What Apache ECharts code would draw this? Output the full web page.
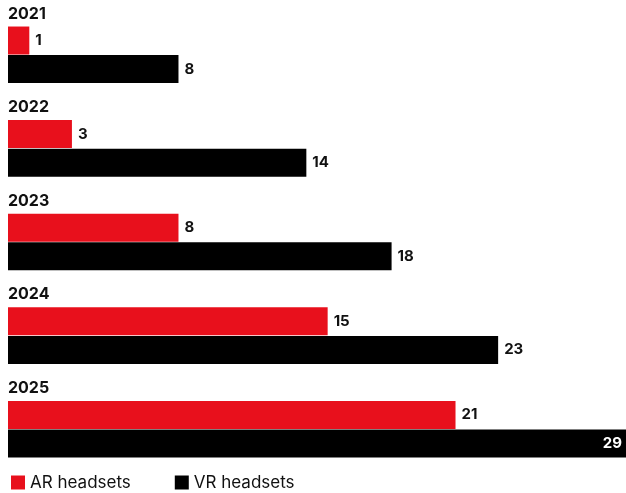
<!doctype html>
<html>
<head>
  <meta charset="utf-8">
  <title>AR / VR headsets</title>
  <script src="https://cdn.jsdelivr.net/npm/echarts@6/dist/echarts.min.js"></script>
  <style>
    html, body { margin: 0; padding: 0; background: #fff; }
    #main { width: 626px; height: 493px; }
  </style>
</head>
<body>
  <div id="main"></div>
<script type="text/javascript">
  var years = ['2021', '2022', '2023', '2024', '2025'];
  var arValues = [1, 3, 8, 15, 21];
  var vrValues = [8, 14, 18, 23, 29];

  var RED = '#e8101c';
  var FONT = 'Inter, Roboto, sans-serif';

  // the last VR bar runs to the edge, its label goes inside in white
  var vrData = vrValues.map(function (v, i) {
    if (i === vrValues.length - 1) {
      return { value: v, label: { position: 'insideRight', color: '#fff', distance: 4 } };
    }
    return v;
  });

  var option = {
    animation: false,
    grid: { left: 8, right: 0, top: 8, bottom: 17 },
    legend: {
      left: 6, top: 469,
      itemWidth: 14, itemHeight: 14, itemGap: 44,
      icon: 'rect',
      textStyle: { fontFamily: FONT, fontSize: 17, color: '#111' },
      data: ['AR headsets', 'VR headsets']
    },
    xAxis: {
      type: 'value', min: 0, max: 29,
      show: false
    },
    yAxis: {
      type: 'category', data: years, inverse: true,
      axisLine: { show: false }, axisTick: { show: false },
      axisLabel: {
        inside: true, margin: 0, align: 'left', verticalAlign: 'bottom',
        padding: [0, 0, 33, 0],
        fontFamily: FONT, fontSize: 16, fontWeight: 'bold', color: '#111'
      }
    },
    series: [
      {
        name: 'AR headsets', type: 'bar', data: arValues,
        barWidth: 28, barGap: '2%',
        itemStyle: { color: RED },
        label: { show: true, position: 'right', distance: 6, fontFamily: FONT, fontSize: 15, fontWeight: 'bold', color: '#111' }
      },
      {
        name: 'VR headsets', type: 'bar', data: vrData,
        barWidth: 28,
        itemStyle: { color: '#000' },
        label: { show: true, position: 'right', distance: 6, fontFamily: FONT, fontSize: 15, fontWeight: 'bold', color: '#111' }
      }
    ]
  };

  var myChart = echarts.init(document.getElementById('main'));
  myChart.setOption(option);
</script>
</body>
</html>
